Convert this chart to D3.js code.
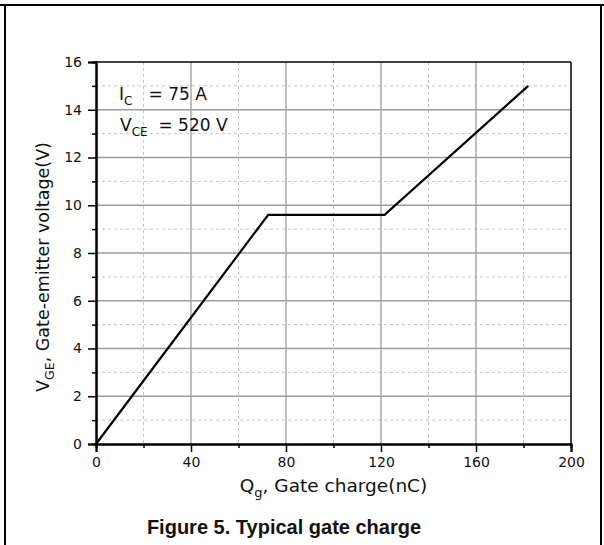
<!DOCTYPE html>
<html>
<head>
<meta charset="utf-8">
<script src="https://cdn.jsdelivr.net/npm/d3@7"></script>
<style>
  body { margin: 0; background: #fff; }
  svg { display: block; }
</style>
</head>
<body>
<script>
// data (nC, V)
var chargeNC = [0, 72.5, 121.5, 182];
var gateVolt = [0, 9.6, 9.6, 15];
var xTicks = [0, 40, 80, 120, 160, 200];
var yTicks = [0, 2, 4, 6, 8, 10, 12, 14, 16];

var W = 604, H = 545;
var margin = {top: 62, right: 33, bottom: 101, left: 96},
    width = W - margin.left - margin.right,
    height = H - margin.top - margin.bottom;
var font = "'DejaVu Sans', sans-serif";

var svg = d3.select("body").append("svg")
    .attr("width", W)
    .attr("height", H);

// outer frame of the figure cell
svg.append("line").attr("x1", 0).attr("x2", W).attr("y1", 5).attr("y2", 5)
    .style("stroke", "#000").style("stroke-width", 2);
svg.append("line").attr("x1", 5).attr("x2", 5).attr("y1", 5).attr("y2", H)
    .style("stroke", "#000").style("stroke-width", 2);
svg.append("line").attr("x1", 601).attr("x2", 601).attr("y1", 5).attr("y2", H)
    .style("stroke", "#000").style("stroke-width", 2);

var g = svg.append("g")
    .attr("transform", "translate(" + margin.left + "," + margin.top + ")");

// Scales
var x = d3.scaleLinear().domain([0, 200]).range([0, width]);
var y = d3.scaleLinear().domain([0, 16]).range([height, 0]);

var xMinor = d3.range(20, 200, 40);
var yMinor = d3.range(1, 16, 2);

// Grid
g.selectAll(".vminor").data(xMinor).enter().append("line").attr("class", "vminor")
    .attr("x1", x).attr("x2", x).attr("y1", 0).attr("y2", height)
    .style("stroke", "#c4c4c4").style("stroke-dasharray", "3,3");
g.selectAll(".hminor").data(yMinor).enter().append("line").attr("class", "hminor")
    .attr("y1", y).attr("y2", y).attr("x1", 0).attr("x2", width)
    .style("stroke", "#c4c4c4").style("stroke-dasharray", "3,3");
g.selectAll(".vmajor").data(xTicks.slice(1, -1)).enter().append("line").attr("class", "vmajor")
    .attr("x1", x).attr("x2", x).attr("y1", 0).attr("y2", height)
    .style("stroke", "#9c9c9c").style("stroke-width", 1.3);
g.selectAll(".hmajor").data(yTicks.slice(1, -1)).enter().append("line").attr("class", "hmajor")
    .attr("y1", y).attr("y2", y).attr("x1", 0).attr("x2", width)
    .style("stroke", "#9c9c9c").style("stroke-width", 1.3);

// top and right frame
g.append("line").attr("x1", 0).attr("x2", width).attr("y1", 0).attr("y2", 0)
    .style("stroke", "#000").style("stroke-width", 1.5);
g.append("line").attr("x1", width).attr("x2", width).attr("y1", 0).attr("y2", height)
    .style("stroke", "#000").style("stroke-width", 1.5);

// Axes
var xaxis = d3.axisBottom(x).tickValues(xTicks).tickSize(8).tickPadding(5);
var yaxis = d3.axisLeft(y).tickValues(yTicks).tickSize(8).tickPadding(6);
var xaxisMinor = d3.axisBottom(x).tickValues(xMinor).tickSize(4).tickFormat("");
var yaxisMinor = d3.axisLeft(y).tickValues(yMinor).tickSize(4).tickFormat("");

function styleAxis(sel) {
    sel.select(".domain").style("stroke-width", 2);
    sel.selectAll(".tick line").style("stroke-width", 1.5);
    sel.selectAll("text")
        .style("font-family", font)
        .style("font-size", "14px")
        .style("fill", "#111");
}

g.append("g").attr("transform", "translate(0," + height + ")").call(xaxisMinor).call(styleAxis);
g.append("g").call(yaxisMinor).call(styleAxis);
g.append("g").attr("class", "axis").attr("transform", "translate(0," + height + ")").call(xaxis).call(styleAxis);
g.append("g").attr("class", "axis").call(yaxis).call(styleAxis);

// Line
var line = d3.line()
    .x(function(d, i) { return x(chargeNC[i]); })
    .y(function(d) { return y(d); });

g.append("path")
    .datum(gateVolt)
    .style("fill", "none")
    .style("stroke", "#000")
    .style("stroke-width", 2.2)
    .attr("d", line);

// text with one subscript
function subText(parent, main, sub, rest, size, subSize) {
    var t = parent.append("text")
        .style("font-family", font)
        .style("font-size", size + "px")
        .style("white-space", "pre")
        .style("fill", "#111");
    t.append("tspan").text(main);
    t.append("tspan").attr("dy", 5).style("font-size", subSize + "px").text(sub);
    t.append("tspan").attr("dy", -5).text(rest);
    return t;
}
subText(g, "I", "C", "   = 75 A", 17, 12).attr("x", 23).attr("y", 38);
subText(g, "V", "CE", "  = 520 V", 17, 12).attr("x", 24).attr("y", 69);

// x label
subText(svg, "Q", "g", ", Gate charge(nC)", 18.5, 13)
    .attr("x", margin.left + width / 2).attr("y", 492)
    .style("text-anchor", "middle");

// y label
subText(svg, "V", "GE", ", Gate-emitter voltage(V)", 17.5, 12.5)
    .attr("transform", "translate(49," + (margin.top + height / 2 + 14) + ") rotate(-90)")
    .style("text-anchor", "middle");

// caption
svg.append("text")
    .attr("x", 284).attr("y", 534)
    .style("text-anchor", "middle")
    .style("font-family", "'Liberation Sans', Arial, sans-serif")
    .style("font-weight", "bold")
    .style("font-size", "20px")
    .style("fill", "#111")
    .text("Figure 5. Typical gate charge");
</script>
</body>
</html>
